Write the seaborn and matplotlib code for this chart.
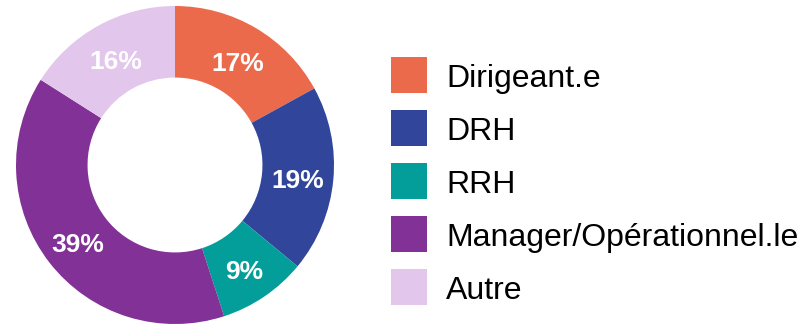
import matplotlib
matplotlib.use("Agg")
import matplotlib.pyplot as plt
from matplotlib.patches import Rectangle
import numpy as np
import seaborn as sns

categories = ["Dirigeant.e", "DRH", "RRH", "Manager/Opérationnel.le", "Autre"]
shares = [17, 19, 9, 39, 16]
colors = ["#EC6A4C", "#31469B", "#039E9A", "#823196", "#E2C6EC"]

sns.set_theme(style="white")
plt.rcParams["font.family"] = ["Liberation Sans", "DejaVu Sans"]
palette = sns.color_palette(colors)

W, H = 803, 328
fig = plt.figure(figsize=(W / 100, H / 100), dpi=100)
fig.patch.set_facecolor("white")

# donut axes: centre (175,165), outer radius 159 px
cx, cy, R = 175, 165, 159
ax = fig.add_axes([(cx - R) / W, (H - cy - R) / H, 2 * R / W, 2 * R / H])
ax.pie(
    shares,
    colors=palette,
    startangle=90,
    counterclock=False,
    radius=1.0,
    wedgeprops=dict(width=0.45, edgecolor="none"),
)
ax.set_xlim(-1, 1)
ax.set_ylim(-1, 1)
ax.set_aspect("equal")
ax.axis("off")

# percentage labels in the middle of each ring segment
cum = np.cumsum([0] + shares[:-1])
for start, v in zip(cum, shares):
    ang = np.deg2rad(90 - (start + v / 2) * 3.6)
    r = 0.775
    ax.text(r * np.cos(ang), r * np.sin(ang) - 0.03, f"{v}%", ha="center",
            va="center", color="white", fontsize=19, fontweight="bold")

# legend: colour squares with labels, laid out in pixel units
sq, x0, y0, step, tx = 36, 391, 57, 53, 446
for i, (c, lab) in enumerate(zip(palette, categories)):
    top = y0 + step * i
    fig.patches.append(Rectangle((x0 / W, 1 - (top + sq) / H), sq / W, sq / H,
                                 transform=fig.transFigure, facecolor=c,
                                 edgecolor="none"))
    fig.text(tx / W, 1 - (top + 30) / H, lab, fontsize=23, color="black",
             ha="left", va="baseline")

fig.savefig("out.png", dpi=100, facecolor="white")
